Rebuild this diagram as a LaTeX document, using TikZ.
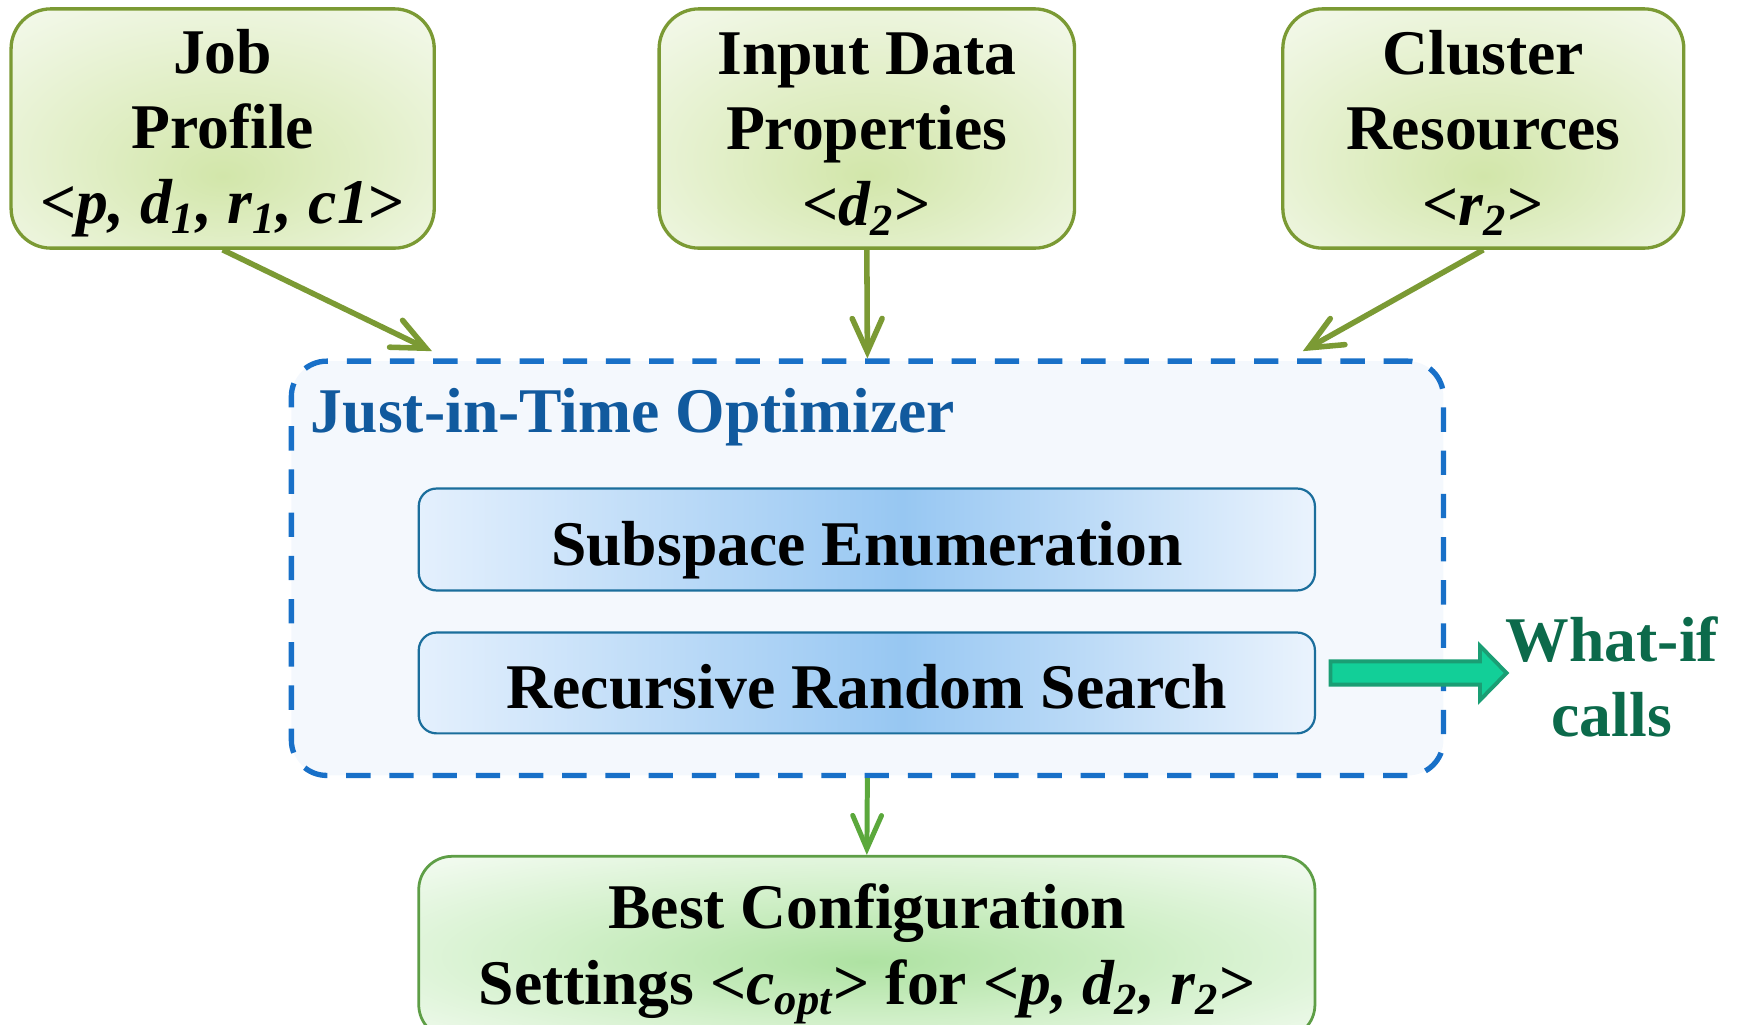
\documentclass[tikz,border=0pt]{standalone}
\usepackage{fontspec}
\setmainfont{Liberation Serif}
\usetikzlibrary{arrows.meta,calc}

\definecolor{olive}{HTML}{7B9A34}
\definecolor{topin}{HTML}{D2E6AA}
\definecolor{topmid}{HTML}{E4F0CC}
\definecolor{topout}{HTML}{F4F9EC}
\definecolor{dashblue}{HTML}{1870C8}
\definecolor{optfill}{HTML}{F4F8FD}
\definecolor{titleblue}{HTML}{115A9E}
\definecolor{barborder}{HTML}{1B6E9C}
\definecolor{barcenter}{HTML}{97C7F2}
\definecolor{baredge}{HTML}{E4F0FD}
\definecolor{baredgeR}{HTML}{EAF3FD}
\definecolor{callfill}{HTML}{12CF98}
\definecolor{calledge}{HTML}{1A9E74}
\definecolor{calltext}{HTML}{0C6A4B}
\definecolor{outgreen}{HTML}{5BA83C}
\definecolor{bestborder}{HTML}{5E9E46}
\definecolor{bestin}{HTML}{AEE2A2}
\definecolor{bestmid}{HTML}{D2F0CA}
\definecolor{bestout}{HTML}{F3FBF1}

% soft glows for the input boxes and the result box
\pgfdeclareradialshading{topglow}{\pgfpoint{0bp}{-10bp}}%
  {color(0bp)=(topin); color(20bp)=(topmid); color(38bp)=(topout); color(60bp)=(topout)}
\pgfdeclareradialshading{bestglow}{\pgfpoint{0bp}{-4bp}}%
  {color(0bp)=(bestin); color(18bp)=(bestmid); color(36bp)=(bestout); color(60bp)=(bestout)}
% blue band for the two optimizer steps
\pgfdeclarehorizontalshading{bluebar}{100bp}%
  {color(0bp)=(baredge); color(25bp)=(baredge); color(52bp)=(barcenter); color(75bp)=(baredgeR); color(100bp)=(baredgeR)}

\newcommand\diagfont{\fontsize{16.35pt}{19.3pt}\selectfont\bfseries}
% taller first line, so the three lines sit a little lower in their box
\newcommand\firstline{\rule{0pt}{13.6pt}}

\begin{document}
\begin{tikzpicture}[x=0.1mm,y=-0.1mm,
  inputbox/.style={draw=olive, line width=0.3mm, rounded corners=3.6mm,
    shade, shading=topglow, minimum height=21.6mm, align=center,
    inner sep=0pt, font=\diagfont},
  optbox/.style={draw=dashblue, line width=0.48mm, dash pattern=on 2.2mm off 1.7mm,
    fill=optfill, rounded corners=3.2mm, minimum width=104mm, minimum height=37.4mm},
  stepbox/.style={draw=barborder, line width=0.2mm, rounded corners=1.6mm,
    shade, shading=bluebar, minimum width=80.9mm, inner sep=0pt, font=\diagfont,
    text height=13.6pt, text depth=0.5pt},
  resultbox/.style={draw=bestborder, line width=0.25mm, rounded corners=3mm,
    shade, shading=bestglow, minimum width=80.9mm, minimum height=16.4mm},
  feed/.style={draw=olive, line width=0.5mm,
    -{Straight Barb[length=3mm,width=2.7mm,line width=0.5mm,line cap=round]}},
  outflow/.style={draw=outgreen, line width=0.45mm,
    -{Straight Barb[length=3mm,width=2.6mm,line width=0.45mm,line cap=round]}},
  callarrow/.style={draw=calledge, line width=0.35mm, fill=callfill, line join=miter}
]
\useasboundingbox (0,0) rectangle (1568,925);
\clip (0,0) rectangle (1568,925);

% inputs
\node[inputbox, minimum width=38.2mm] (job) at (201,116)
  {\firstline Job\\Profile\\{<}\textit{p, d\textsubscript{1}, r\textsubscript{1}, c1}{>}};
\node[inputbox, minimum width=37.5mm] (data) at (782.5,116)
  {\firstline Input Data\\Properties\\{<}\textit{d\textsubscript{2}}{>}};
\node[inputbox, minimum width=36.2mm] (cluster) at (1339,116)
  {\firstline Cluster\\Resources\\{<}\textit{r\textsubscript{2}}{>}};

% optimizer
\node[optbox] (opt) at (783,513) {};
\node[anchor=base west, inner sep=0pt, text=titleblue, font=\diagfont] (title) at (280,390)
  {Just-in-Time Optimizer};
\node[stepbox, minimum height=9.2mm] (sub) at (782.5,487) {Subspace Enumeration};
\node[stepbox, minimum height=9.1mm] (rrs) at (782.5,616.5) {Recursive Random Search};

% what-if calls
\node[align=center, inner sep=0pt, text=calltext, font=\diagfont] (whatif) at (1455,611)
  {What-if\\calls};
\coordinate (callsrc) at (1201,607.5);
\coordinate (calltip) at (1360,607.5);
\draw[callarrow] ($(callsrc)+(0,-10.5)$) -- ($(calltip)+(-24,-10.5)$)
  -- ($(calltip)+(-24,-24.5)$) -- (calltip) -- ($(calltip)+(-24,24.5)$)
  -- ($(calltip)+(-24,10.5)$) -- ($(callsrc)+(0,10.5)$) -- cycle;

% result
\node[resultbox] (best) at (782.5,855) {};
\node[align=center, inner sep=0pt, font=\diagfont] (bestlabel) at (783,861)
  {Best Configuration\\Settings {<}\textit{c\textsubscript{opt}}{>} for {<}\textit{p, d\textsubscript{2}, r\textsubscript{2}}{>}};

% connectors
\coordinate (jobin) at (390,317);
\coordinate (clusterin) at (1176,317);
\draw[feed] (job.south) -- (jobin);
\draw[feed] (data.south) -- (opt.north);
\draw[feed] (cluster.south) -- (clusterin);
\draw[outflow] (opt.south) -- (best.north);
\end{tikzpicture}
\end{document}
